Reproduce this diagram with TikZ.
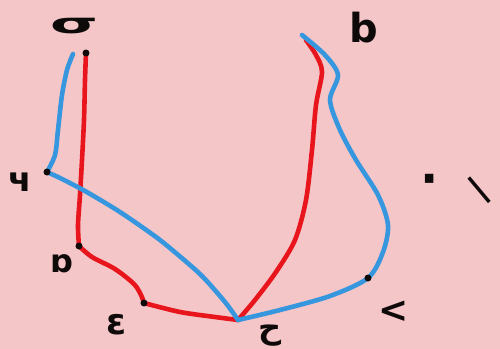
\documentclass[tikz,border=0pt]{standalone}
\usepackage{fontspec}
\setmainfont{DejaVu Sans}
\newfontfamily\arabicfont[Script=Arabic]{DejaVu Sans}
\TeXXeTstate=1
\definecolor{bgpink}{RGB}{245,198,200}
\definecolor{penred}{RGB}{232,22,28}
\definecolor{penblue}{RGB}{54,150,222}
\definecolor{ink}{RGB}{15,10,10}
\begin{document}
\begin{tikzpicture}[x=0.5pt,y=-0.5pt,
  redpen/.style={draw=penred,line width=2.3pt,line cap=round,line join=round},
  bluepen/.style={draw=penblue,line width=2.3pt,line cap=round,line join=round},
  vtx/.style={circle,fill=ink,inner sep=0pt,minimum size=3.5pt},
  lbl/.style={text=ink,inner sep=0pt,font=\bfseries}]
\fill[bgpink] (0,0) rectangle (500,349);
\useasboundingbox (0,0) rectangle (500,349);
% vertices
\coordinate (A) at (86,53);
\coordinate (Ab) at (73,54);
\coordinate (L) at (47,172);
\coordinate (D) at (79,246);
\coordinate (E) at (144,303);
\coordinate (B) at (238,320);
\coordinate (R) at (368,278);
\coordinate (T) at (306,40);
\coordinate (Tb) at (302,35);
% red path
\draw[redpen] plot[smooth,tension=0.5] coordinates {(A) (85,80) (84,120) (82,160) (80,195) (78,225) (D)};
\draw[redpen] plot[smooth,tension=0.5] coordinates {(D) (92,257) (115,269) (134,284) (141,295) (E)};
\draw[redpen] plot[smooth,tension=0.5] coordinates {(E) (180,312) (215,317) (B)};
\draw[redpen] plot[smooth,tension=0.5] coordinates {(B) (255,300) (276,272) (295,240) (306,200) (312,150) (316,105) (322,72) (316,55) (T)};
% blue path
\draw[bluepen] plot[smooth,tension=0.5] coordinates {(Ab) (67,70) (62,95) (58,130) (55,155) (L)};
\draw[bluepen] plot[smooth,tension=0.4] coordinates {(L) (60,178) (85,191) (120,212) (160,240) (200,274) (225,302) (B)};
\draw[bluepen] plot[smooth,tension=0.5] coordinates {(B) (280,310) (330,296) (R) (383,252) (388,225) (378,195) (356,160) (340,130) (330,100) (338,75) (325,55) (Tb)};
% vertex marks
\node[vtx] (vA) at (A) {};
\node[vtx] (vL) at (L) {};
\node[vtx] (vD) at (D) {};
\node[vtx] (vE) at (E) {};
\node[vtx] (vR) at (R) {};
% labels
\node[lbl,font=\fontsize{14}{14}\selectfont\bfseries,xscale=2.2] (la) at (74,26) {σ};
\node[lbl,font=\fontsize{20}{20}\selectfont\bfseries] (lb) at (364,28) {b};
\node[lbl,font=\fontsize{17}{17}\selectfont\bfseries] (lc) at (20,182) {ч};
\node[lbl,font=\fontsize{16}{16}\selectfont\bfseries] (ld) at (62,264) {ɒ};
\node[lbl,font=\fontsize{18}{18}\selectfont\bfseries] (le) at (117,325) {ε};
\node[lbl,font=\fontsize{16}{16}\selectfont\arabicfont\bfseries] (lf) at (270,336) {\beginR ح\endR};
\node[lbl,font=\fontsize{18}{18}\selectfont\bfseries] (lg) at (394,312) {<};
\node[lbl,font=\fontsize{24}{24}\selectfont\bfseries] (lh) at (430,185) {·};
\node[lbl,font=\fontsize{16}{16}\selectfont\bfseries,rotate=40] (li) at (480,190) {|};
\end{tikzpicture}
\end{document}
